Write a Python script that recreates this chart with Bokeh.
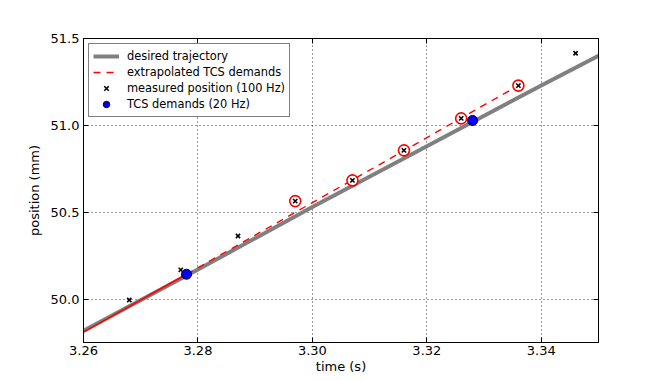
from bokeh.plotting import figure
from bokeh.models import (FixedTicker, NumeralTickFormatter, LinearAxis, Range1d,
                          Legend, LegendItem, CustomJSTickFormatter)
from bokeh.embed import file_html
from bokeh.resources import INLINE

# desired trajectory
traj_t = [3.26, 3.28, 3.30, 3.32, 3.34, 3.35]
traj_pos = [49.817, 50.17, 50.53, 50.88, 51.23, 51.40]

# earlier extrapolated demand segment (solid)
prev_t = [3.26, 3.278]
prev_pos = [49.81, 50.143]

# extrapolated TCS demands
extrap_t = [3.278, 3.297, 3.307, 3.316, 3.326, 3.336]
extrap_pos = [50.143, 50.499, 50.686, 50.854, 51.042, 51.229]

# measured position (100 Hz)
meas_t = [3.268, 3.277, 3.287, 3.297, 3.307, 3.316, 3.326, 3.336, 3.346]
meas_pos = [49.995, 50.168, 50.363, 50.564, 50.683, 50.856, 51.040, 51.229, 51.415]

# measured samples circled in red
hl_t = [3.297, 3.307, 3.316, 3.326, 3.336]
hl_pos = [50.564, 50.683, 50.856, 51.040, 51.229]

# TCS demands (20 Hz)
dem_t = [3.278, 3.328]
dem_pos = [50.143, 51.028]

x_ticks = [3.26, 3.28, 3.30, 3.32, 3.34]
y_ticks = [50.0, 50.5, 51.0, 51.5]

FONT = "DejaVu Sans"

p = figure(width=656, height=376,
           x_range=Range1d(3.26, 3.35), y_range=Range1d(49.75, 51.5),
           output_backend="svg", toolbar_location=None,
           min_border_left=83, min_border_right=58,
           min_border_top=38, min_border_bottom=34,
           x_axis_label="time (s)", y_axis_label="position (mm)")

p.outline_line_color = "black"
p.outline_line_width = 1
p.background_fill_color = "white"
p.border_fill_color = "white"

# axes styling
for ax, ticks, fmt in ((p.xaxis[0], x_ticks, "0.00"), (p.yaxis[0], y_ticks, "0.0")):
    ax.ticker = FixedTicker(ticks=ticks)
    ax.formatter = NumeralTickFormatter(format=fmt)
    ax.major_tick_in = 5
    ax.major_tick_out = 0
    ax.minor_tick_line_color = None
    ax.axis_line_color = "black"
    ax.major_tick_line_color = "black"
    ax.major_label_text_font = FONT
    ax.major_label_text_font_size = "13px"
    ax.major_label_text_color = "black"
    ax.axis_label_text_font = FONT
    ax.axis_label_text_font_size = "13px"
    ax.axis_label_text_font_style = "normal"
    ax.axis_label_text_color = "black"
    ax.major_label_standoff = 4

p.xaxis[0].major_label_standoff = 3
p.xaxis[0].axis_label_standoff = 1
p.yaxis[0].axis_label_standoff = 6

top = LinearAxis(ticker=FixedTicker(ticks=x_ticks),
                 formatter=CustomJSTickFormatter(code="return ''"),
                 major_tick_in=5, major_tick_out=0, minor_tick_line_color=None,
                 axis_line_color="black", major_tick_line_color="black")
p.add_layout(top, "above")
right = LinearAxis(ticker=FixedTicker(ticks=y_ticks),
                   formatter=CustomJSTickFormatter(code="return ''"),
                   major_tick_in=5, major_tick_out=0, minor_tick_line_color=None,
                   axis_line_color="black", major_tick_line_color="black")
p.add_layout(right, "right")

p.xgrid.ticker = FixedTicker(ticks=x_ticks)
p.ygrid.ticker = FixedTicker(ticks=y_ticks)
for g in (p.xgrid, p.ygrid):
    g.grid_line_color = "black"
    g.grid_line_dash = "1 3"
    g.grid_line_width = 1
    g.grid_line_alpha = 0.8

# data
r_traj = p.line(traj_t, traj_pos, line_color="#808080", line_width=4)
p.line(prev_t, prev_pos, line_color="red", line_width=1.6)
r_ext = p.line(extrap_t, extrap_pos, line_color="red", line_width=1.4, line_dash="7 6")
p.scatter(hl_t, hl_pos, marker="circle", size=11, fill_color="white",
          line_color="red", line_width=1.6)
r_meas = p.scatter(meas_t, meas_pos, marker="x", size=6, line_color="black", line_width=1.6)
r_dem = p.scatter(dem_t, dem_pos, marker="circle", size=10, fill_color="blue",
                  line_color="black", line_width=1)

legend = Legend(items=[
    LegendItem(label="desired trajectory", renderers=[r_traj]),
    LegendItem(label="extrapolated TCS demands", renderers=[r_ext]),
    LegendItem(label="measured position (100 Hz)", renderers=[r_meas]),
    LegendItem(label="TCS demands (20 Hz)", renderers=[r_dem]),
], location="top_left")
legend.margin = 5
legend.padding = 4
legend.spacing = 0
legend.label_height = 16
legend.glyph_height = 16
legend.glyph_width = 26
legend.label_standoff = 8
legend.label_text_font = FONT
legend.label_text_font_size = "11.4px"
legend.label_text_color = "black"
legend.border_line_color = "black"
legend.border_line_width = 1
legend.background_fill_color = "white"
legend.background_fill_alpha = 1
p.add_layout(legend, "center")

open("out.html", "w").write(file_html(p, INLINE))
